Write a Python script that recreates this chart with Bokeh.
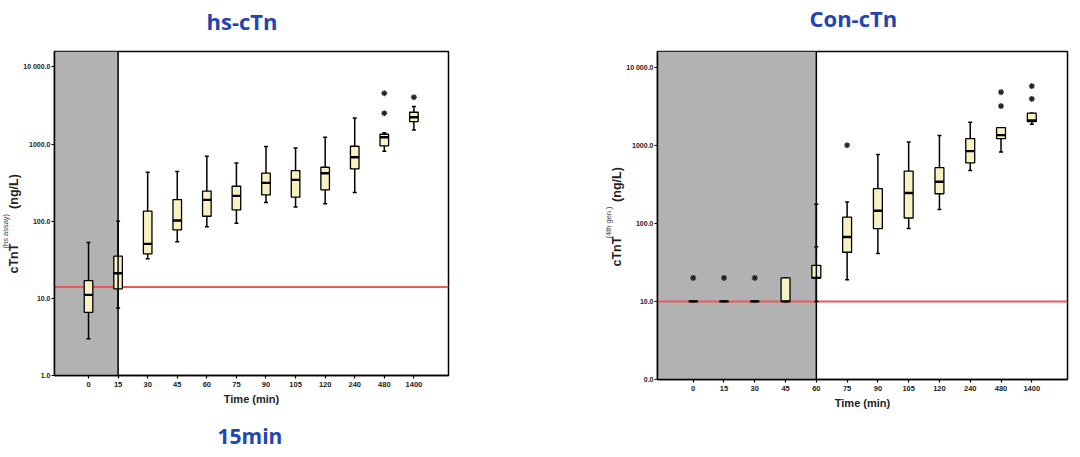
from bokeh.plotting import figure
from bokeh.layouts import row
from bokeh.models import BoxAnnotation, Span, FixedTicker, ColumnDataSource, Title
from bokeh.embed import file_html
from bokeh.resources import INLINE

# ---------------- data ----------------
times_hs = ["0", "15", "30", "45", "60", "75", "90", "105", "120", "240", "480", "1400"]
hs_low = [3.0, 7.5, 32.5, 54, 85, 94, 175, 153, 169, 235, 807, 1527]
hs_q1 = [6.6, 13.3, 37.7, 77, 116, 140, 219, 205, 255, 476, 946, 1958]
hs_med = [11.1, 21.2, 50.9, 102, 189, 213, 314, 343, 419, 675, 1227, 2228]
hs_q3 = [17, 35.2, 135, 191, 245, 284, 419, 453, 501, 937, 1340, 2586]
hs_high = [53, 100, 431, 440, 695, 570, 929, 892, 1227, 2184, 1400, 3063]
hs_out_t = ["480", "480", "1400"]
hs_out_v = [4560, 2510, 4045]
hs_cutoff = 14

times_con = ["0", "15", "30", "45", "60", "75", "90", "105", "120", "240", "480", "1400"]
con_low = [10, 10, 10, 10, 10, 19, 41, 85.5, 150, 476, 817, 1849]
con_q1 = [10, 10, 10, 10, 20, 42.6, 85.5, 117, 239, 593, 1216, 2004]
con_med = [10, 10, 10, 10, 20, 66.7, 145, 244, 340, 841, 1345, 2080]
con_q3 = [10, 10, 10, 20, 29, 120, 278, 467, 516, 1216, 1675, 2572]
con_high = [10, 10, 10, 20, 175, 188, 762, 1102, 1330, 1963, 1675, 2572]
con_out_t = ["0", "15", "30", "75", "480", "480", "1400", "1400"]
con_out_v = [20, 20, 20, 1000, 4776, 3170, 5714, 3918]
con_mark_t = ["60"]
con_mark_v = [50]
con_cutoff = 10

y_ticks = [1, 10, 100, 1000, 10000]
hs_y_labels = ["1.0", "10.0", "100.0", "1000.0", "10 000.0"]
con_y_labels = ["0.0", "10.0", "100.0", "1000.0", "10 000.0"]

BOX_FILL = "#f8f1c3"
GRAY = "#b2b2b2"
RED = "#e85a5c"
BLUE = "#2245b0"
AX_FONT = "Liberation Sans"
NB = "\u00a0"


def spacer(p, side, gap):
    p.add_layout(Title(text=NB, text_font_size="1px", standoff=gap), side)


def make_panel(times, low, q1, med, q3, high, out_t, out_v, cutoff, shade_to,
               y_labels, title, sup, frame, borders, xr, title_off, title_gap, ylab_off,
               mark_t=None, mark_v=None):
    fw, fh = frame
    bl, br, bt, bb = borders
    p = figure(x_range=xr, y_range=(1, 10 ** 4.2), y_axis_type="log",
               frame_width=fw, frame_height=fh,
               min_border_left=bl, min_border_right=br, min_border_top=bt, min_border_bottom=bb,
               output_backend="svg", toolbar_location=None)
    p.grid.visible = False
    p.outline_line_color = "black"
    p.outline_line_width = 1.5
    p.background_fill_color = "white"

    idx = list(range(len(times)))
    src = ColumnDataSource(dict(x=idx, low=low, q1=q1, med=med, q3=q3, high=high))

    p.add_layout(BoxAnnotation(right=times.index(shade_to), fill_color=GRAY, fill_alpha=1,
                               line_alpha=0, level="underlay"))
    p.add_layout(Span(location=cutoff, dimension="width", line_color=RED, line_width=2,
                      level="underlay"))

    p.segment(x0="x", y0="low", x1="x", y1="high", source=src, line_color="black", line_width=1.5)
    p.scatter(x="x", y="low", source=src, marker="dash", size=4, line_color="black", line_width=1.5)
    p.scatter(x="x", y="high", source=src, marker="dash", size=4, line_color="black", line_width=1.5)
    p.vbar(x="x", width=0.29, bottom="q1", top="q3", source=src, fill_color=BOX_FILL,
           line_color="black", line_width=1.3)
    p.scatter(x="x", y="med", source=src, marker="dash", size=9, line_color="black", line_width=2.4)

    p.scatter(x=[times.index(t) for t in out_t], y=out_v, marker="asterisk", size=6,
              line_color="#222222", line_width=1.3)
    if mark_t:
        p.scatter(x=[times.index(t) for t in mark_t], y=mark_v, marker="dash", size=4,
                  line_color="black", line_width=1.5)

    p.add_layout(Span(location=times.index(shade_to), dimension="height", line_color="black",
                      line_width=1.5))

    # axes
    p.xaxis.ticker = FixedTicker(ticks=idx)
    p.xaxis.major_label_overrides = {i: t for i, t in zip(idx, times)}
    p.xaxis.axis_label = "Time (min)"
    p.xaxis.axis_label_standoff = 3
    p.xaxis.axis_label_text_font = AX_FONT
    p.xaxis.axis_label_text_font_style = "bold"
    p.xaxis.axis_label_text_font_size = "11px"
    p.xaxis.axis_label_text_color = "#222222"

    p.yaxis.ticker = FixedTicker(ticks=y_ticks)
    p.yaxis.major_label_overrides = {v: l for v, l in zip(y_ticks, y_labels)}

    for ax in (p.xaxis, p.yaxis):
        ax.minor_tick_line_color = None
        ax.major_tick_out = 3
        ax.major_tick_in = 0
        ax.axis_line_color = "black"
        ax.axis_line_width = 1.5
        ax.major_tick_line_color = "black"
        ax.major_tick_line_width = 1.2
        ax.major_label_text_font = AX_FONT
        ax.major_label_text_font_style = "bold"
        ax.major_label_text_color = "#222222"
    p.yaxis.major_label_text_font_size = "7px"
    p.yaxis.major_label_standoff = 1
    p.xaxis.major_label_text_font_size = "7.5px"
    p.xaxis.major_label_standoff = 3

    # y axis label: main text + superscript (as titles on the left side)
    o_main, o_sup = ylab_off
    p.add_layout(Title(text="cTnT" + NB * 10 + "(ng/L)", align="left", offset=o_main,
                       standoff=0, text_font=AX_FONT, text_font_style="bold",
                       text_font_size="12.5px", text_color="#222222"), "left")
    p.add_layout(Title(text=sup, align="left", offset=o_sup, standoff=-11,
                       text_font=AX_FONT, text_font_style="normal",
                       text_font_size="7.5px", text_color="#444444"), "left")

    # title, pushed away from the frame by an invisible spacer
    spacer(p, "above", title_gap)
    p.add_layout(Title(text=title, align="left", offset=title_off, standoff=0,
                       text_font="Open Sans", text_font_style="bold", text_font_size="22px",
                       text_color=BLUE), "above")
    return p


p1 = make_panel(times_hs, hs_low, hs_q1, hs_med, hs_q3, hs_high, hs_out_t, hs_out_v, hs_cutoff,
                "15", hs_y_labels, "hs-cTn", "(hs assay)",
                frame=(394, 324), borders=(54, 152, 51, 80), xr=(-1.15, 12.17),
                title_off=152, title_gap=13, ylab_off=(102, 127))
spacer(p1, "below", 9)
p1.add_layout(Title(text="15min", align="left", offset=163, standoff=0,
                    text_font="Open Sans", text_font_style="bold", text_font_size="21px",
                    text_color=BLUE), "below")

p2 = make_panel(times_con, con_low, con_q1, con_med, con_q3, con_high, con_out_t, con_out_v,
                con_cutoff, "60", con_y_labels, "Con-cTn", "(4th gen.)",
                frame=(410, 328), borders=(57, 5, 50, 77), xr=(-1.16, 12.16),
                title_off=152, title_gap=16, ylab_off=(113, 141),
                mark_t=con_mark_t, mark_v=con_mark_v)

layout = row(p1, p2, spacing=0)
open("out.html", "w").write(file_html(layout, INLINE))
